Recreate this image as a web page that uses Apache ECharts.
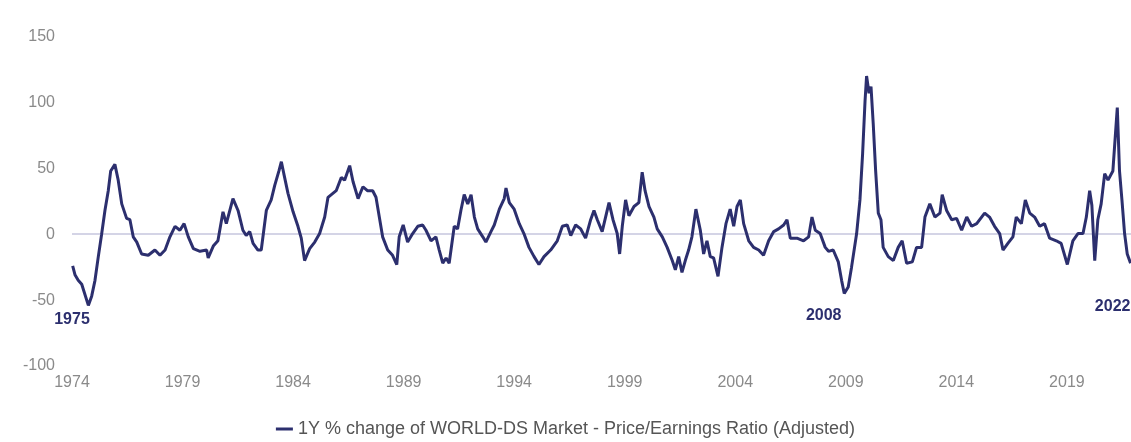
<!DOCTYPE html>
<html>
<head>
<meta charset="utf-8">
<script src="https://cdn.jsdelivr.net/npm/echarts@6/dist/echarts.min.js"></script>
<style>
  html, body { margin: 0; padding: 0; background: #ffffff; }
  #chart { width: 1131px; height: 442px; }
</style>
</head>
<body>
<div id="chart"></div>
<script>
// Decimal year of each observation
const years = [
  1974.03, 1974.14, 1974.28, 1974.44, 1974.74, 1974.89, 1975.04, 1975.19, 1975.34, 1975.49,
  1975.64, 1975.75, 1975.94, 1976.09, 1976.25, 1976.47, 1976.62, 1976.77, 1976.93, 1977.15,
  1977.45, 1977.75, 1977.98, 1978.21, 1978.43, 1978.66, 1978.88, 1979.07, 1979.26, 1979.49,
  1979.79, 1980.09, 1980.16, 1980.39, 1980.60, 1980.83, 1980.98, 1981.28, 1981.51, 1981.73,
  1981.88, 1982.04, 1982.19, 1982.41, 1982.56, 1982.79, 1983.01, 1983.17, 1983.36, 1983.47,
  1983.58, 1983.77, 1984.00, 1984.22, 1984.37, 1984.52, 1984.75, 1984.98, 1985.20, 1985.43,
  1985.58, 1985.95, 1986.18, 1986.33, 1986.56, 1986.71, 1986.94, 1987.16, 1987.36, 1987.60,
  1987.75, 1987.90, 1988.05, 1988.28, 1988.50, 1988.69, 1988.80, 1988.98, 1989.18, 1989.41,
  1989.64, 1989.86, 1990.01, 1990.24, 1990.46, 1990.61, 1990.77, 1990.92, 1991.06, 1991.29,
  1991.44, 1991.59, 1991.74, 1991.90, 1992.05, 1992.20, 1992.35, 1992.58, 1992.72, 1992.95,
  1993.10, 1993.33, 1993.55, 1993.63, 1993.78, 1994.00, 1994.23, 1994.44, 1994.67, 1994.90,
  1995.12, 1995.35, 1995.65, 1995.95, 1996.18, 1996.40, 1996.56, 1996.78, 1997.01, 1997.23,
  1997.46, 1997.61, 1997.76, 1997.98, 1998.29, 1998.47, 1998.66, 1998.77, 1998.89, 1999.04,
  1999.19, 1999.42, 1999.64, 1999.79, 1999.92, 2000.10, 2000.32, 2000.47, 2000.70, 2000.92,
  2001.15, 2001.29, 2001.44, 2001.59, 2001.74, 2001.89, 2002.04, 2002.22, 2002.42, 2002.57,
  2002.72, 2002.87, 2003.02, 2003.22, 2003.40, 2003.58, 2003.77, 2003.93, 2004.08, 2004.23,
  2004.38, 2004.61, 2004.83, 2005.06, 2005.28, 2005.51, 2005.74, 2005.96, 2006.19, 2006.34,
  2006.49, 2006.79, 2007.09, 2007.32, 2007.47, 2007.62, 2007.84, 2008.07, 2008.22, 2008.43,
  2008.66, 2008.81, 2008.93, 2009.11, 2009.26, 2009.49, 2009.64, 2009.76, 2009.87, 2009.94,
  2010.05, 2010.14, 2010.24, 2010.35, 2010.47, 2010.59, 2010.69, 2010.92, 2011.15, 2011.37,
  2011.55, 2011.75, 2012.01, 2012.20, 2012.43, 2012.58, 2012.80, 2013.03, 2013.26, 2013.36,
  2013.56, 2013.79, 2014.01, 2014.24, 2014.47, 2014.69, 2014.92, 2015.28, 2015.50, 2015.73,
  2015.96, 2016.11, 2016.33, 2016.56, 2016.71, 2016.94, 2017.12, 2017.32, 2017.54, 2017.77,
  2017.99, 2018.22, 2018.52, 2018.74, 2019.02, 2019.27, 2019.50, 2019.73, 2019.88, 2020.03,
  2020.13, 2020.26, 2020.40, 2020.55, 2020.71, 2020.86, 2021.08, 2021.28, 2021.38, 2021.49,
  2021.61, 2021.73, 2021.88
];

// 1Y % change of WORLD-DS Market P/E (Adjusted)
const peChange = [
  -24, -31, -35, -38, -54, -47, -35, -17, 0, 18,
  33, 48, 53, 41, 23, 12, 11, -2, -6, -15,
  -16, -12, -16, -12, -2, 6, 3, 8, -2, -11,
  -13, -12, -18, -9, -5, 17, 8, 27, 18, 3,
  -1, 2, -7, -12, -12, 18, 26, 37, 48, 55,
  46, 31, 17, 6, -3, -20, -11, -6, 0.5, 13,
  28, 33, 43, 41, 52, 40, 27, 36, 33, 33,
  28, 13, -2, -12, -16, -23, -2, 7, -6, 0.5,
  6, 7, 3, -5, -2, -12, -22, -18, -22, 6,
  4, 18, 30, 23, 30, 13, 4, -2, -6, 2,
  7, 19, 27, 35, 24, 19, 8, 0.5, -10, -17,
  -23, -17, -12, -5, 6, 7, -1, 7, 4, -3,
  11, 18, 11, 2, 24, 11, 0.5, -15, 6, 26,
  14, 21, 24, 47, 33, 21, 13, 4, -2, -10,
  -20, -27, -17, -29, -20, -12, -2, 19, 3, -15,
  -5, -17, -18, -32, -10, 8, 19, 6, 21, 26,
  8, -5, -10, -12, -16, -5, 2, 4, 7, 11,
  -3, -3, -5, -2, 13, 3, 0.5, -10, -13, -12,
  -21, -35, -45, -40, -25, 0.5, 26, 61, 101, 120,
  107, 112, 84, 48, 16, 11, -10, -17, -20, -10,
  -5, -22, -21, -10, -10, 13, 23, 13, 16, 30,
  18, 11, 12, 3, 13, 6, 8, 16, 13, 6,
  0.5, -12, -7, -2, 13, 8, 26, 16, 13, 6,
  8, -3, -5, -7, -23, -5, 0.5, 0.5, 13, 33,
  22, -20, 11, 23, 46, 41, 48, 96, 48, 26,
  0.5, -15, -22
];

const xTickYears = [1974, 1979, 1984, 1989, 1994, 1999, 2004, 2009, 2014, 2019];
const yTicks = [-100, -50, 0, 50, 100, 150];

const annotationText = ['1975', '2008', '2022'];
const annotationYear = [1974.0, 2008.0, 2021.07];
const annotationValue = [-65, -61.5, -55];

const seriesName = '1Y % change of WORLD-DS Market - Price/Earnings Ratio (Adjusted)';
const lineColor = '#2c2f6e';
const fontFam = 'Liberation Sans, Arial, sans-serif';

const chart = echarts.init(document.getElementById('chart'), null, { renderer: 'canvas' });

const lineData = years.map((y, i) => [y, peChange[i]]);
const markPoints = annotationText.map((t, i) => ({
  coord: [annotationYear[i], annotationValue[i]],
  value: t
}));

chart.setOption({
  animation: false,
  backgroundColor: '#ffffff',
  grid: { left: 72, right: 0, top: 36.5, bottom: 76, containLabel: false },
  legend: {
    bottom: 4,
    left: 'center',
    padding: 0,
    icon: 'rect',
    itemWidth: 17,
    itemHeight: 3,
    textStyle: { color: '#555', fontSize: 18, fontFamily: fontFam },
    data: [seriesName]
  },
  xAxis: {
    type: 'value',
    min: 1974,
    max: 2021.9,
    axisLine: { show: false },
    axisTick: { show: false },
    splitLine: { show: false },
    axisLabel: {
      customValues: xTickYears,
      formatter: v => String(Math.round(v)),
      color: '#8a8a8a',
      fontSize: 16,
      margin: 9,
      fontFamily: fontFam
    }
  },
  yAxis: {
    type: 'value',
    min: -100,
    max: 150,
    interval: 50,
    axisLine: { show: false },
    axisTick: { show: false },
    splitLine: { show: false },
    axisLabel: {
      customValues: yTicks,
      color: '#8a8a8a',
      fontSize: 16,
      margin: 17,
      fontFamily: fontFam
    }
  },
  series: [{
    name: seriesName,
    type: 'line',
    data: lineData,
    showSymbol: false,
    symbol: 'none',
    lineStyle: { color: lineColor, width: 3 },
    itemStyle: { color: lineColor },
    z: 3,
    markLine: {
      silent: true,
      symbol: 'none',
      label: { show: false },
      lineStyle: { color: '#d4d4e6', width: 2, type: 'solid' },
      data: [{ yAxis: 0 }],
      z: 1
    },
    markPoint: {
      silent: true,
      symbol: 'circle',
      symbolSize: 0,
      label: {
        show: true,
        position: 'inside',
        formatter: p => p.value,
        color: lineColor,
        fontWeight: 'bold',
        fontSize: 16,
        fontFamily: fontFam
      },
      data: markPoints
    }
  }]
});
</script>
</body>
</html>
